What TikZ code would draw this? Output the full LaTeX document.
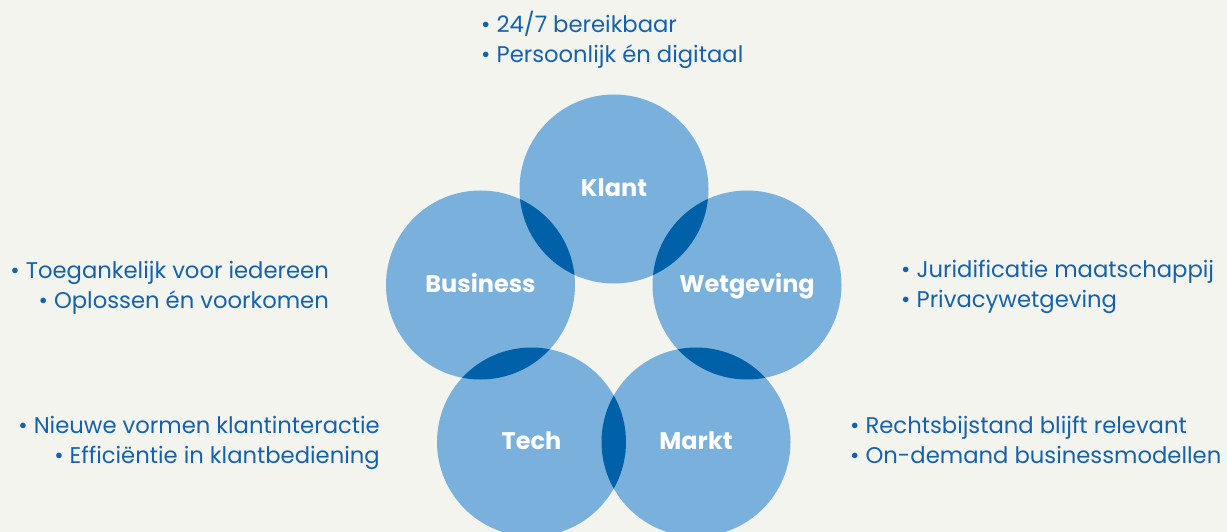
\documentclass[tikz,border=0pt]{standalone}
\usepackage{fontspec}
\setmainfont{Poppins}
\definecolor{achtergrond}{HTML}{F4F4EF}
\definecolor{lichtblauw}{HTML}{7AB0DC}
\definecolor{donkerblauw}{HTML}{0060A8}
\definecolor{tekstblauw}{HTML}{1462AE}
\tikzset{
  bol/.style={circle, fill=lichtblauw, minimum size=189pt, inner sep=0pt,
    text=white, font=\bfseries\fontsize{24}{28}\selectfont,
    text height=15pt, text depth=0pt},
  punt/.style={text=tekstblauw, font=\fontsize{22.7}{27}\selectfont, inner sep=0pt},
}
\begin{document}
\begin{tikzpicture}[x=1pt, y=-1pt]
    \fill[achtergrond] (0,0) rectangle (1227,532);
    \useasboundingbox (0,0) rectangle (1227,532);
    \foreach \naam/\x/\y/\tekst in {kl/614/189/Klant, bu/480.5/285/Business,
        wg/747/285/Wetgeving, te/531.5/442/Tech, ma/696/442/Markt} {
            \node[bol] (\naam) at (\x, \y) {\tekst};
    };
    \foreach \a/\b in {kl/bu, kl/wg, bu/te, wg/ma, te/ma} {
        \begin{scope}
            \clip (\a.center) circle (94.5pt);
            \fill[donkerblauw] (\b.center) circle (94.5pt);
        \end{scope}
    };
    \node[punt, anchor=base west] (kl1) at (481, 33) {• 24/7 bereikbaar};
    \node[punt, anchor=base west] (kl2) at (481, 63) {• Persoonlijk én digitaal};
    \node[punt, anchor=base east] (bu1) at (329, 278) {• Toegankelijk voor iedereen};
    \node[punt, anchor=base east] (bu2) at (329, 308) {• Oplossen én voorkomen};
    \node[punt, anchor=base west] (wg1) at (901, 277) {• Juridificatie maatschappij};
    \node[punt, anchor=base west] (wg2) at (901, 307) {• Privacywetgeving};
    \node[punt, anchor=base east] (te1) at (380, 433) {• Nieuwe vormen klantinteractie};
    \node[punt, anchor=base east] (te2) at (380, 463) {• Efficiëntie in klantbediening};
    \node[punt, anchor=base west] (ma1) at (850, 433) {• Rechtsbijstand blijft relevant};
    \node[punt, anchor=base west] (ma2) at (850, 463) {• On-demand businessmodellen};
\end{tikzpicture}
\end{document}
